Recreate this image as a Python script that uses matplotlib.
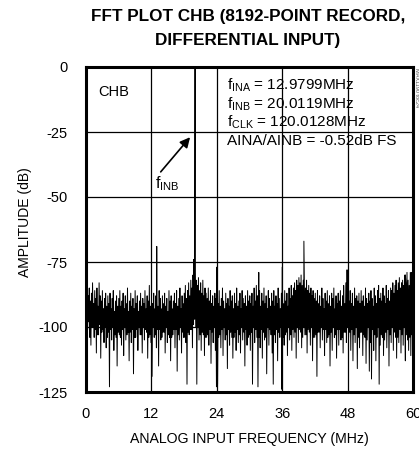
import numpy as np
import matplotlib
matplotlib.use("Agg")
import matplotlib.pyplot as plt

plt.rcParams['font.family'] = ['Liberation Sans', 'DejaVu Sans']
plt.rcParams['mathtext.fontset'] = 'custom'
plt.rcParams['mathtext.rm'] = 'Liberation Sans'
plt.rcParams['mathtext.it'] = 'Liberation Sans'

# noise floor, 0..60 MHz, 20 values per 2 MHz
noise_db = [
    -84, -102, -86, -101, -88, -98, -85, -104, -90, -107, -87, -100, -83, -100, -91, -104, -86, -101, -89, -110,
    -85, -103, -92, -103, -83, -99, -88, -112, -90, -102, -86, -101, -93, -106, -89, -100, -87, -108, -92, -104,
    -88, -102, -91, -123, -87, -101, -93, -105, -89, -100, -86, -109, -94, -103, -90, -104, -88, -115, -92, -102,
    -89, -103, -86, -104, -92, -107, -90, -101, -87, -111, -93, -100, -88, -105, -91, -103, -85, -102, -94, -113,
    -90, -102, -87, -106, -92, -101, -89, -118, -93, -104, -86, -104, -91, -101, -88, -109, -94, -100, -90, -103,
    -87, -103, -92, -110, -89, -100, -91, -105, -86, -101, -93, -102, -88, -112, -90, -104, -84, -103, -92, -106,
    -89, -119, -91, -100, -87, -104, -93, -103, -88, -108, -90, -101, -92, -115, -86, -101, -89, -105, -93, -104,
    -88, -102, -91, -102, -87, -110, -92, -100, -89, -106, -94, -103, -86, -104, -90, -113, -88, -104, -93, -103,
    -90, -101, -87, -108, -91, -101, -86, -117, -92, -103, -89, -105, -85, -100, -93, -110, -88, -102, -91, -104,
    -87, -104, -84, -106, -89, -122, -86, -102, -83, -103, -88, -101, -82, -101, -85, -108, -80, -99, -78, -97,
    -79, -100, -82, -122, -84, -100, -81, -105, -86, -103, -83, -109, -87, -102, -82, -103, -88, -111, -85, -104,
    -87, -104, -89, -103, -85, -107, -90, -101, -86, -114, -91, -102, -88, -106, -92, -100, -87, -109, -89, -123,
    -88, -122, -91, -104, -86, -103, -92, -108, -89, -101, -85, -111, -90, -100, -93, -105, -87, -103, -91, -116,
    -89, -101, -92, -107, -86, -102, -90, -104, -88, -112, -93, -104, -87, -102, -91, -109, -85, -101, -92, -106,
    -90, -103, -87, -110, -93, -100, -86, -105, -89, -102, -91, -115, -88, -101, -92, -107, -86, -104, -90, -103,
    -88, -109, -91, -102, -87, -122, -92, -100, -85, -106, -90, -101, -84, -104, -88, -123, -91, -104, -86, -108,
    -92, -101, -87, -112, -90, -102, -85, -105, -91, -104, -88, -118, -93, -100, -86, -107, -89, -101, -92, -103,
    -87, -110, -90, -122, -86, -103, -92, -106, -88, -101, -91, -113, -85, -102, -89, -104, -93, -100, -87, -124,
    -88, -104, -91, -107, -86, -103, -90, -102, -87, -111, -92, -100, -85, -105, -89, -103, -84, -109, -88, -101,
    -85, -104, -83, -102, -86, -112, -82, -100, -84, -106, -81, -101, -83, -102, -80, -108, -84, -104, -82, -100,
    -83, -103, -85, -103, -82, -110, -86, -101, -84, -102, -87, -107, -85, -100, -88, -113, -86, -104, -89, -104,
    -87, -103, -90, -119, -86, -102, -91, -102, -88, -108, -92, -100, -85, -105, -89, -101, -93, -111, -87, -101,
    -90, -106, -86, -104, -91, -103, -88, -115, -92, -102, -87, -109, -89, -100, -85, -104, -93, -103, -88, -112,
    -91, -101, -87, -107, -90, -101, -86, -105, -92, -104, -88, -110, -84, -102, -91, -102, -83, -106, -89, -100,
    -88, -104, -90, -102, -86, -109, -91, -101, -87, -113, -92, -103, -85, -106, -89, -100, -88, -116, -90, -104,
    -87, -108, -91, -102, -86, -102, -90, -111, -88, -103, -92, -104, -85, -114, -89, -105, -91, -100, -87, -117,
    -90, -106, -86, -120, -89, -101, -92, -109, -85, -103, -88, -113, -91, -104, -86, -100, -84, -122, -89, -107,
    -87, -103, -90, -104, -85, -111, -88, -105, -91, -102, -84, -108, -89, -101, -86, -115, -90, -103, -85, -106,
    -86, -100, -83, -109, -87, -102, -84, -104, -82, -112, -86, -104, -83, -106, -81, -101, -85, -110, -83, -103,
    -82, -107, -84, -100, -80, -113, -83, -103, -79, -105, -82, -109, -84, -104, -81, -111, -79, -103, -83, -101,
]

# tones and spurs
spur_mhz = [12.98, 19.76, 20.01, 23.95, 31.7, 36.0, 39.98, 47.9, 58.6, 59.5]
spur_db = [-69, -74, -0.5, -77, -79, -77, -67, -78, -80, -79]

noise_mhz = np.linspace(0, 60, len(noise_db))
f_all = np.concatenate([noise_mhz, spur_mhz])
a_all = np.concatenate([noise_db, spur_db])
order = np.argsort(f_all, kind='stable')
f_all, a_all = f_all[order], a_all[order]

xticks = [0, 12, 24, 36, 48, 60]
yticks = [0, -25, -50, -75, -100, -125]

W, H = 419, 454
fig = plt.figure(figsize=(W / 100, H / 100), dpi=100)
ax = fig.add_axes([86 / W, 1 - 392 / H, (413 - 86) / W, (392 - 67) / H])

ax.plot(f_all, a_all, color='black', lw=0.7, zorder=2)

ax.set_xlim(0, 60)
ax.set_ylim(-125, 0)
ax.set_xticks(xticks)
ax.set_yticks(yticks)
ax.set_yticklabels([str(t) for t in yticks])
ax.tick_params(length=0, labelsize=10.5)
ax.tick_params(axis='y', pad=13)
ax.tick_params(axis='x', pad=11)
ax.grid(True, color='black', lw=0.9, zorder=3)
ax.set_axisbelow(False)
for s in ax.spines.values():
    s.set_linewidth(2.2)
    s.set_zorder(4)

ax.set_xlabel('ANALOG INPUT FREQUENCY (MHz)', fontsize=10.2)
ax.xaxis.set_label_coords(0.5, (392 - 432) / 325)
ax.set_ylabel('AMPLITUDE (dB)', fontsize=10)
ax.yaxis.set_label_coords((32 - 86) / 327, (392 - 222) / 325)

fig.text(248 / W, 1 - 16 / H, 'FFT PLOT CHB (8192-POINT RECORD,',
         ha='center', va='center', fontsize=12.3, fontweight='bold')
fig.text(248 / W, 1 - 40 / H, 'DIFFERENTIAL INPUT)',
         ha='center', va='center', fontsize=12.3, fontweight='bold')

ax.text(2.2, -9.6, 'CHB', fontsize=10.5, va='center', ha='left')
info = [r'$\mathregular{f_{INA}}$ = 12.9799MHz',
        r'$\mathregular{f_{INB}}$ = 20.0119MHz',
        r'$\mathregular{f_{CLK}}$ = 120.0128MHz',
        'AINA/AINB = -0.52dB FS']
for i, s in enumerate(info):
    ax.text(25.9, -7.2 - 7.1 * i, s, fontsize=11, va='center', ha='left')

ax.annotate(r'$\mathregular{f_{INB}}$', xy=(19.1, -27), xytext=(12.6, -45),
            fontsize=11.5, ha='left', va='center',
            arrowprops=dict(arrowstyle='-|>', color='black', lw=1.2,
                            mutation_scale=15, shrinkA=0, shrinkB=0,
                            relpos=(0.15, 1.0)))

fig.text(416 / W, 1 - 88 / H, 'MAX1190 toc24', rotation=-90, fontsize=4,
         color='#555555', ha='center', va='center')

fig.savefig('out.png', dpi=100)
